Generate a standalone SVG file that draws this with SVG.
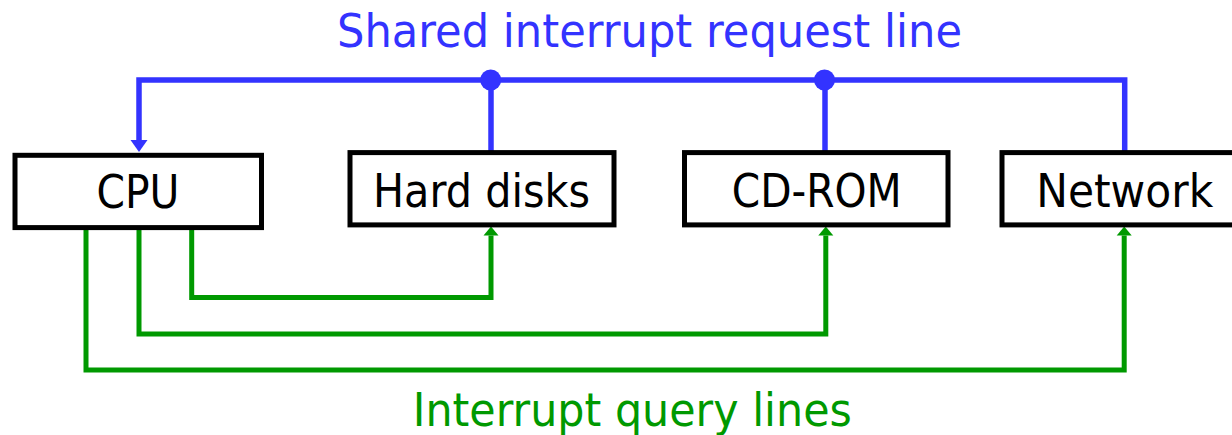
<svg xmlns="http://www.w3.org/2000/svg" width="1232" height="435" viewBox="0 0 1232 435">
  <style>
    .box { fill: #ffffff; stroke: #000000; stroke-width: 5; }
    .label { font-family: "DejaVu Sans", "Liberation Sans", sans-serif; font-size: 47px; fill: #000000; text-anchor: middle; }
    .title { font-family: "DejaVu Sans", "Liberation Sans", sans-serif; font-size: 47px; text-anchor: middle; }
    .irq { fill: none; stroke: #3333ff; stroke-width: 5.5; stroke-linejoin: miter; }
    .query { fill: none; stroke: #009900; stroke-width: 5; stroke-linejoin: miter; }
  </style>
  <defs>
    <marker id="arrow-blue" markerUnits="userSpaceOnUse" markerWidth="14" markerHeight="20" refX="0" refY="0" viewBox="0 -10 14 20" orient="auto" overflow="visible">
      <path d="M0,-8.5 L12,0 L0,8.5 Z" fill="#3333ff"/>
    </marker>
    <marker id="arrow-green" markerUnits="userSpaceOnUse" markerWidth="12" markerHeight="18" refX="0" refY="0" viewBox="0 -9 12 18" orient="auto" overflow="visible">
      <path d="M0,-7.5 L9,0 L0,7.5 Z" fill="#009900"/>
    </marker>
  </defs>

  <rect width="1232" height="435" fill="#ffffff"/>

  <!-- connectors -->
  <g id="connectors">
    <!-- shared interrupt request line, from Network back to the CPU -->
    <path class="irq" d="M1124.7,152.6 V80 H139 V140" marker-end="url(#arrow-blue)"/>
    <path class="irq" d="M491,80 V152.6"/>
    <path class="irq" d="M825,80 V152.6"/>
    <circle cx="490.7" cy="80" r="10.5" fill="#3333ff"/>
    <circle cx="824.5" cy="80" r="10.5" fill="#3333ff"/>
    <!-- interrupt query lines -->
    <path class="query" d="M191.7,228 V297.5 H491 V235.5" marker-end="url(#arrow-green)"/>
    <path class="query" d="M139,228 V334 H825.8 V235.5" marker-end="url(#arrow-green)"/>
    <path class="query" d="M86,228 V370 H1124.2 V235.5" marker-end="url(#arrow-green)"/>
  </g>

  <!-- nodes -->
  <g id="cpu">
    <rect class="box" x="15" y="155.3" width="246.5" height="72.3"/>
    <text class="label" x="138" y="208" textLength="83" lengthAdjust="spacingAndGlyphs">CPU</text>
  </g>
  <g id="hard-disks">
    <rect class="box" x="350" y="152.6" width="264" height="72.3"/>
    <text class="label" x="481.5" y="207" textLength="217" lengthAdjust="spacingAndGlyphs">Hard disks</text>
  </g>
  <g id="cd-rom">
    <rect class="box" x="684.5" y="152.6" width="263.5" height="72.3"/>
    <text class="label" x="816.7" y="207" textLength="170" lengthAdjust="spacingAndGlyphs">CD-ROM</text>
  </g>
  <g id="network">
    <rect class="box" x="1002" y="152.6" width="245" height="72.3"/>
    <text class="label" x="1124.7" y="207" textLength="177" lengthAdjust="spacingAndGlyphs">Network</text>
  </g>

  <!-- captions -->
  <text class="title" x="649.5" y="47" fill="#3333ff" textLength="625" lengthAdjust="spacingAndGlyphs">Shared interrupt request line</text>
  <text class="title" x="632.3" y="426" fill="#009900" textLength="439" lengthAdjust="spacingAndGlyphs">Interrupt query lines</text>
</svg>
